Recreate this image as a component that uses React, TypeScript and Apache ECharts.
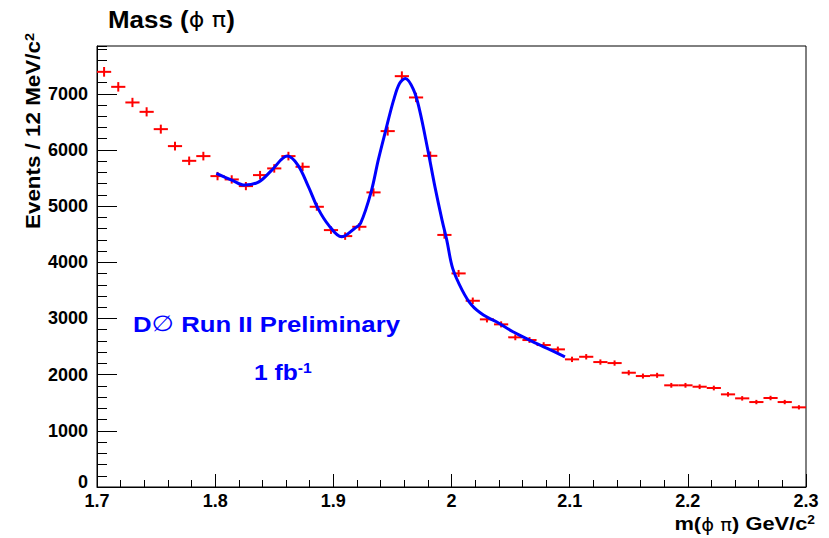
import React, { useEffect, useRef } from 'react';
import * as echarts from 'echarts';

// Histogram: bin centres (GeV/c^2) and entries per 12 MeV/c^2 bin
const binCenters = [
  1.706, 1.718, 1.730, 1.742, 1.754, 1.766, 1.778, 1.790, 1.802, 1.814,
  1.826, 1.838, 1.850, 1.862, 1.874, 1.886, 1.898, 1.910, 1.922, 1.934,
  1.946, 1.958, 1.970, 1.982, 1.994, 2.006, 2.018, 2.030, 2.042, 2.054,
  2.066, 2.078, 2.090, 2.102, 2.114, 2.126, 2.138, 2.150, 2.162, 2.174,
  2.186, 2.198, 2.210, 2.222, 2.234, 2.246, 2.258, 2.270, 2.282, 2.294,
];
const counts = [
  7390, 7123, 6845, 6678, 6370, 6068, 5806, 5890, 5534, 5475,
  5356, 5552, 5671, 5890, 5700, 4988, 4573, 4466, 4632, 5244,
  6335, 7313, 6934, 5895, 4487, 3802, 3315, 2984, 2895, 2664,
  2616, 2527, 2450, 2272, 2318, 2224, 2206, 2034, 1975, 1988,
  1810, 1810, 1785, 1762, 1649, 1578, 1512, 1584, 1512, 1418,
];
const binHalfWidth = 0.006;

// Fit curve
const fitMass = [
  1.801, 1.814, 1.825, 1.837, 1.848, 1.861, 1.870, 1.879, 1.887, 1.896,
  1.907, 1.918, 1.923, 1.932, 1.938, 1.944, 1.951, 1.956, 1.961, 1.968,
  1.973, 1.980, 1.986, 1.992, 1.996, 2.001, 2.009, 2.017, 2.027, 2.038,
  2.052, 2.066, 2.081, 2.096,
];
const fitValue = [
  5582, 5463, 5374, 5432, 5641, 5890, 5730, 5343, 4959, 4662,
  4454, 4603, 4692, 5254, 5819, 6322, 6886, 7183, 7272, 7064,
  6708, 5996, 5343, 4751, 4395, 3891, 3505, 3238, 3060, 2941,
  2763, 2616, 2468, 2318,
];

const xTicks = ['1.7', '1.8', '1.9', '2', '2.1', '2.2', '2.3'];
const yTicks = ['0', '1000', '2000', '3000', '4000', '5000', '6000', '7000'];

const FONT = '"Liberation Sans", Arial, Helvetica, sans-serif';
const GREEK = '"DejaVu Sans", "Liberation Sans", sans-serif';

export default function App() {
  const ref = useRef<HTMLDivElement>(null);

  useEffect(() => {
    if (!ref.current) return;
    const chart = echarts.init(ref.current, undefined, { renderer: 'svg' });

    const histData = binCenters.map((m, i) => [m, counts[i]]);
    const fitData = fitMass.map((m, i) => [m, fitValue[i]]);

    const option: any = {
      animation: false,
      backgroundColor: '#ffffff',
      grid: {
        left: 97,
        right: 23,
        top: 46,
        bottom: 51,
        show: true,
        borderColor: '#000',
        borderWidth: 1,
        backgroundColor: 'transparent',
      },
      xAxis: {
        type: 'value',
        min: 1.7,
        max: 2.3,
        interval: 0.1,
        axisLine: { show: true, onZero: false, lineStyle: { color: '#000', width: 1 } },
        axisTick: { show: true, inside: true, length: 13, lineStyle: { color: '#000', width: 1 } },
        minorTick: { show: true, splitNumber: 5, length: 7, lineStyle: { color: '#000', width: 1 } },
        splitLine: { show: false },
        minorSplitLine: { show: false },
        axisLabel: {
          margin: 5,
          color: '#000',
          fontSize: 18,
          fontWeight: 'bold',
          fontFamily: FONT,
          formatter: (v: number) => {
            const s = String(+v.toFixed(1));
            return xTicks.includes(s) ? s : '';
          },
        },
      },
      yAxis: [
        {
          type: 'value',
          min: 0,
          max: 7850,
          interval: 1000,
          axisLine: { show: true, onZero: false, lineStyle: { color: '#000', width: 1 } },
          axisTick: { show: true, inside: true, length: 20, lineStyle: { color: '#000', width: 1 } },
          splitLine: { show: false },
          axisLabel: {
            margin: 9,
            color: '#000',
            fontSize: 18,
            fontWeight: 'bold',
            fontFamily: FONT,
            showMaxLabel: false,
            formatter: (v: number) => {
              const s = String(Math.round(v));
              if (s === '0') return '{z|0}';
              return yTicks.includes(s) ? s : '';
            },
            rich: {
              z: {
                fontSize: 18,
                fontWeight: 'bold',
                fontFamily: FONT,
                color: '#000',
                padding: [0, 0, 10, 0],
              },
            },
          },
        },
        {
          type: 'value',
          min: 0,
          max: 7850,
          interval: 200,
          position: 'left',
          axisLine: { show: false },
          axisTick: { show: true, inside: true, length: 10, lineStyle: { color: '#000', width: 1 } },
          axisLabel: { show: false },
          splitLine: { show: false },
        },
      ],
      series: [
        {
          type: 'custom',
          name: 'data',
          xAxisIndex: 0,
          yAxisIndex: 0,
          data: histData,
          clip: true,
          renderItem: (params: any, api: any) => {
            const x = api.value(0);
            const y = api.value(1);
            const err = Math.sqrt(y);
            const l = api.coord([x - binHalfWidth, y]);
            const r = api.coord([x + binHalfWidth, y]);
            const t = api.coord([x, y + err]);
            const b = api.coord([x, y - err]);
            const style = { stroke: '#ff0000', lineWidth: 2 };
            return {
              type: 'group',
              children: [
                { type: 'line', shape: { x1: l[0], y1: l[1], x2: r[0], y2: r[1] }, style },
                { type: 'line', shape: { x1: t[0], y1: t[1], x2: b[0], y2: b[1] }, style },
              ],
            };
          },
          z: 2,
        },
        {
          type: 'line',
          name: 'fit',
          data: fitData,
          smooth: 0.35,
          showSymbol: false,
          symbol: 'none',
          lineStyle: { color: '#0000ff', width: 3 },
          z: 3,
        },
      ],
      graphic: [
        {
          type: 'text',
          x: 108,
          y: 7,
          scaleX: 1.08,
          style: {
            text: '{b|Mass (}{g|\u03d5 \u03c0}{b|)}',
            rich: {
              b: { fontSize: 24, fontWeight: 'bold', fontFamily: FONT, fill: '#000' },
              g: { fontSize: 22, fontWeight: 'normal', fontFamily: GREEK, fill: '#000' },
            },
          },
        },
        {
          type: 'text',
          x: 43,
          y: 229,
          rotation: Math.PI / 2,
          scaleX: 1.12,
          style: {
            text: '{n|Events / 12 MeV/c}{s|2}',
            align: 'left',
            verticalAlign: 'bottom',
            rich: {
              n: { fontSize: 20, fontWeight: 'bold', fontFamily: FONT, fill: '#000', verticalAlign: 'bottom' },
              s: { fontSize: 13, fontWeight: 'bold', fontFamily: FONT, fill: '#000', verticalAlign: 'top' },
            },
          },
        },
        {
          type: 'text',
          x: 815,
          y: 533,
          scaleX: 1.15,
          style: {
            text: '{n|m(}{g|\u03d5 \u03c0}{n|) GeV/c}{s|2}',
            align: 'right',
            verticalAlign: 'bottom',
            rich: {
              n: { fontSize: 19, fontWeight: 'bold', fontFamily: FONT, fill: '#000', verticalAlign: 'bottom' },
              g: { fontSize: 17, fontWeight: 'normal', fontFamily: GREEK, fill: '#000', verticalAlign: 'bottom' },
              s: { fontSize: 12, fontWeight: 'bold', fontFamily: FONT, fill: '#000', verticalAlign: 'top' },
            },
          },
        },
        {
          type: 'text',
          x: 133,
          y: 313,
          scaleX: 1.17,
          style: {
            text: '{b|D}{o|\u2205}{b| Run II Preliminary}',
            rich: {
              b: { fontSize: 22, fontWeight: 'bold', fontFamily: FONT, fill: '#0000ff' },
              o: { fontSize: 22, fontWeight: 'normal', fontFamily: GREEK, fill: '#0000ff' },
            },
          },
        },
        {
          type: 'text',
          x: 254,
          y: 361,
          scaleX: 1.12,
          style: {
            text: '{b|1 fb}{s|-1}',
            rich: {
              b: { fontSize: 22, fontWeight: 'bold', fontFamily: FONT, fill: '#0000ff', verticalAlign: 'bottom' },
              s: { fontSize: 14, fontWeight: 'bold', fontFamily: FONT, fill: '#0000ff', verticalAlign: 'top' },
            },
          },
        },
      ],
    };

    chart.setOption(option);
    return () => chart.dispose();
  }, []);

  return (
    <div
      ref={ref}
      style={{ position: 'fixed', left: 0, top: 0, width: 829, height: 538, background: '#fff' }}
    />
  );
}
